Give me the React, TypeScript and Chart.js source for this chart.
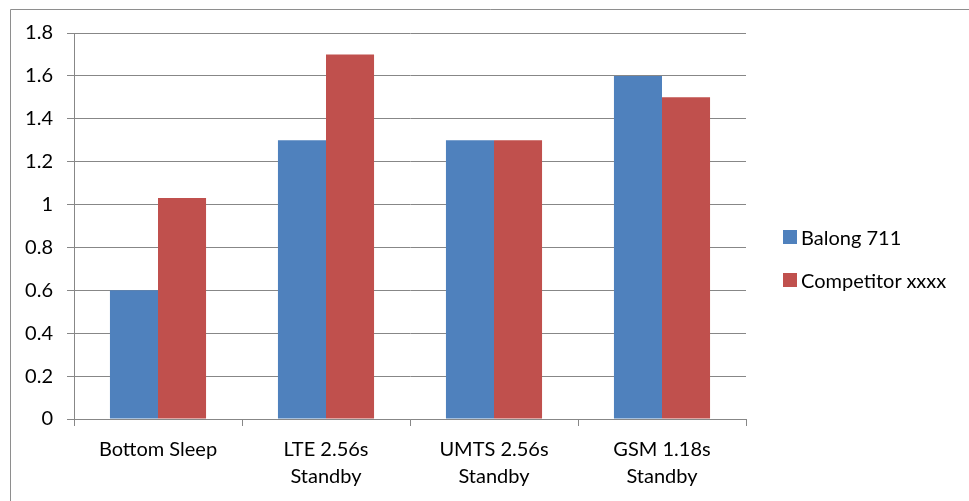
import React, { useEffect, useRef } from "react";
import { Chart, registerables } from "chart.js";

Chart.register(...registerables);

const categories: (string | string[])[] = [
  "Bottom Sleep",
  ["LTE 2.56s", "Standby"],
  ["UMTS 2.56s", "Standby"],
  ["GSM 1.18s", "Standby"],
];
const seriesNames = ["Balong 711", "Competitor xxxx"];
const balong = [0.6, 1.3, 1.3, 1.6];
const competitor = [1.03, 1.7, 1.3, 1.5];
const colors = ["#4F81BD", "#C0504D"];
const yMin = 0;
const yMax = 1.8;
const yStep = 0.2;

const FONT = "Lato, 'Open Sans', sans-serif";
const GRID = "#878787";
const TEXT = "#000000";

const frame = {
  id: "frame",
  beforeDraw(chart: any) {
    const ctx = chart.ctx;
    ctx.save();
    ctx.fillStyle = "#ffffff";
    ctx.fillRect(0, 0, chart.width, chart.height);
    ctx.strokeStyle = "#8e8e8e";
    ctx.lineWidth = 1;
    ctx.beginPath();
    ctx.moveTo(10.5, chart.height + 2);
    ctx.lineTo(10.5, 9.5);
    ctx.lineTo(chart.width + 2, 9.5);
    ctx.stroke();
    ctx.restore();
  },
};

export default function App() {
  const ref = useRef<HTMLCanvasElement | null>(null);
  useEffect(() => {
    if (!ref.current) return;
    const chart = new Chart(ref.current, {
      type: "bar",
      data: {
        labels: categories,
        datasets: [
          { label: seriesNames[0], data: balong, backgroundColor: colors[0] },
          { label: seriesNames[1], data: competitor, backgroundColor: colors[1] },
        ],
      },
      options: {
        animation: false,
        responsive: false,
        maintainAspectRatio: false,
        layout: { padding: { top: 33, right: 223, left: 0, bottom: 0 } },
        datasets: { bar: { categoryPercentage: 0.572, barPercentage: 1 } },
        plugins: {
          legend: { display: false },
          tooltip: { enabled: false },
        },
        scales: {
          x: {
            grid: {
              offset: true,
              drawOnChartArea: false,
              drawTicks: true,
              tickLength: 7,
              color: GRID,
            },
            border: { color: GRID, width: 1 },
            ticks: {
              color: TEXT,
              font: { family: FONT, size: 20, lineHeight: 1.35 },
              padding: 10,
              maxRotation: 0,
              autoSkip: false,
            },
            afterFit(scale: any) {
              scale.height = 82;
            },
          },
          y: {
            min: yMin,
            max: yMax,
            grid: { color: GRID, tickLength: 7, drawTicks: true },
            border: { color: GRID, width: 1 },
            ticks: {
              stepSize: yStep,
              color: TEXT,
              font: { family: FONT, size: 20 },
              padding: 14,
              callback: (v: any) => String(Math.round(Number(v) * 10) / 10),
            },
            afterFit(scale: any) {
              scale.width = 74;
            },
          },
        },
      },
      plugins: [frame],
    });
    return () => chart.destroy();
  }, []);

  const legendItem = (i: number, top: number) => (
    <div
      key={i}
      style={{
        position: "absolute",
        left: 783,
        top,
        height: 24,
        display: "flex",
        alignItems: "center",
        fontFamily: FONT,
        fontSize: 20,
        color: TEXT,
        whiteSpace: "nowrap",
      }}
    >
      <span
        style={{
          display: "inline-block",
          width: 14,
          height: 14,
          background: colors[i],
          marginRight: 4,
        }}
      />
      <span>{seriesNames[i]}</span>
    </div>
  );

  return (
    <div
      style={{
        position: "fixed",
        left: 0,
        top: 0,
        width: 969,
        height: 501,
        background: "#fff",
        overflow: "hidden",
      }}
    >
      <canvas ref={ref} width={969} height={501} style={{ width: 969, height: 501, display: "block" }} />
      {legendItem(0, 225)}
      {legendItem(1, 268)}
    </div>
  );
}
